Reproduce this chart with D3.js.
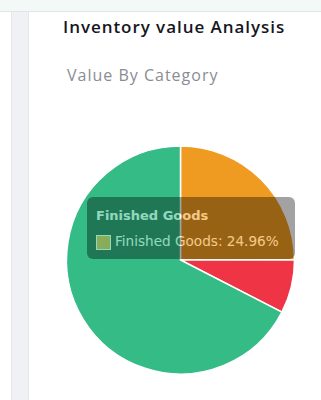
<!DOCTYPE html>
<html lang="en">
<head>
    <meta charset="UTF-8">
    <title>Inventory value Analysis</title>
    <style>
        body {
            margin: 0;
            padding: 0;
            overflow: hidden;
            background: #fff;
        }
        .title {
            font-family: 'Open Sans', sans-serif;
            font-weight: 600;
            font-size: 17px;
            letter-spacing: 0.95px;
            fill: #16161f;
        }
        .subtitle {
            font-family: 'Open Sans', sans-serif;
            font-size: 16px;
            letter-spacing: 1px;
            fill: #8a8c93;
        }
        .tip text {
            font-family: 'DejaVu Sans', sans-serif;
            fill: #fff;
        }
    </style>
</head>
<body>
    <svg id="chart"></svg>

    <script src="https://d3js.org/d3.v7.min.js"></script>
    <script>
        const width = 321, height = 400;

        // data
        const categories = ["Finished Goods", "Work In Progress", "Raw Materials"];
        const shares = [24.96, 7.6, 67.44];
        const colors = ["#ef9b22", "#ee3445", "#34bb86"];
        const activeIndex = 0; // slice under the hover tooltip

        const svg = d3.select("#chart")
            .attr("width", width)
            .attr("height", height);

        // page chrome: top bar + left side strip
        svg.append("rect").attr("x", 0).attr("y", 0).attr("width", width).attr("height", 11).attr("fill", "#f3f9f7");
        svg.append("line").attr("x1", 0).attr("x2", width).attr("y1", 11.5).attr("y2", 11.5).attr("stroke", "#dde6e3");
        svg.append("rect").attr("x", 11).attr("y", 12).attr("width", 18).attr("height", height).attr("fill", "#eff1f5");
        svg.append("line").attr("x1", 11.5).attr("x2", 11.5).attr("y1", 12).attr("y2", height).attr("stroke", "#e4e6eb");
        svg.append("line").attr("x1", 28.5).attr("x2", 28.5).attr("y1", 12).attr("y2", height).attr("stroke", "#e4e6eb");

        svg.append("text").attr("class", "title")
            .attr("x", 63).attr("y", 33)
            .text("Inventory value Analysis");

        svg.append("text").attr("class", "subtitle")
            .attr("x", 67).attr("y", 81)
            .text("Value By Category");

        // pie
        const cx = 180.5, cy = 260, radius = 114;
        const color = d3.scaleOrdinal().domain(categories).range(colors);

        const pie = d3.pie().sort(null).value(d => d.value);
        const arc = d3.arc().innerRadius(0).outerRadius(radius);

        const data = categories.map((c, i) => ({ name: c, value: shares[i] }));

        const g = svg.append("g").attr("transform", `translate(${cx},${cy})`);
        g.selectAll("path")
            .data(pie(data))
            .enter().append("path")
            .attr("d", arc)
            .attr("fill", d => color(d.data.name))
            .attr("stroke", "#fff")
            .attr("stroke-width", 1.5);

        // tooltip (fading in, so drawn at partial opacity)
        const total = d3.sum(shares);
        const active = data[activeIndex];
        const tip = svg.append("g").attr("class", "tip")
            .attr("transform", "translate(87,197)")
            .attr("opacity", 0.45);

        tip.append("rect")
            .attr("width", 208).attr("height", 62).attr("rx", 6)
            .attr("fill", "rgba(0,0,0,0.8)");

        tip.append("text")
            .attr("x", 9).attr("y", 22.5)
            .style("font-weight", "bold").style("font-size", "13px")
            .text(active.name);

        tip.append("rect").attr("x", 9).attr("y", 38).attr("width", 15).attr("height", 15).attr("fill", "#fff");
        tip.append("rect").attr("x", 10).attr("y", 39).attr("width", 13).attr("height", 13).attr("fill", color(active.name));

        tip.append("text")
            .attr("x", 28).attr("y", 49)
            .style("font-size", "13.6px")
            .text(`${active.name}: ${(active.value / total * 100).toFixed(2)}%`);
    </script>
</body>
</html>
